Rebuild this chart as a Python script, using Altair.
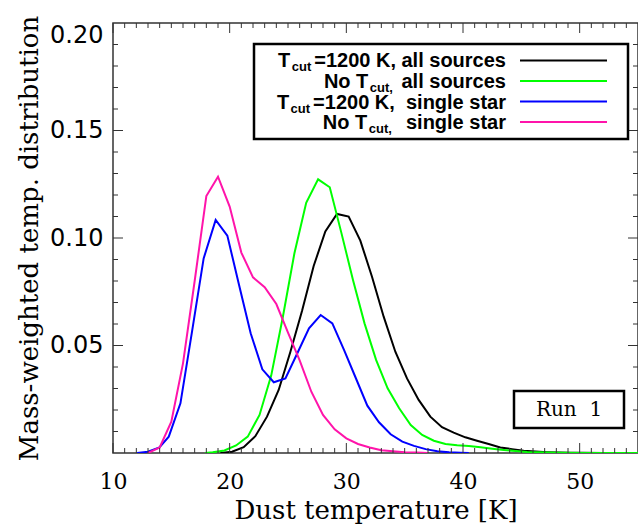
import altair as alt
import pandas as pd

# Mass-weighted dust temperature distributions (Run 1)
black_t = [19.2, 20.2, 21.2, 22.2, 23.2, 24.2, 25.2, 26.2, 27.2, 28.2, 29.2, 30.2,
           31.2, 32.2, 33.2, 34.2, 35.2, 36.2, 37.2, 38.2, 39.2, 40.2, 41.2, 42.2,
           43.2, 44.2, 45.2, 46.2, 47.2, 48.2, 49.2, 50.2, 52.0, 55.0]
black_v = [0.0, 0.0006, 0.0027, 0.0078, 0.0169, 0.0293, 0.0470, 0.0660, 0.0870, 0.1030,
           0.1112, 0.1100, 0.0988, 0.0820, 0.0634, 0.0471, 0.0347, 0.0247, 0.0169, 0.0120,
           0.0095, 0.0073, 0.0057, 0.0042, 0.0026, 0.0018, 0.0011, 0.0007, 0.0004, 0.0002,
           0.0001, 0.0001, 0.0, 0.0]

green_t = [17.9, 18.55, 19.55, 20.55, 21.55, 22.56, 23.56, 24.55, 25.55, 26.56, 27.58,
           28.58, 29.57, 30.57, 31.56, 32.55, 33.54, 34.53, 35.52, 36.5, 37.5, 38.5,
           39.5, 40.5, 41.5, 42.5, 43.5, 44.5, 45.5, 46.5, 47.5, 48.5, 50.0, 55.0]
green_v = [0.0, 0.0003, 0.0012, 0.0035, 0.0076, 0.0177, 0.0360, 0.0630, 0.0929, 0.1164,
           0.1273, 0.1236, 0.1025, 0.0805, 0.0603, 0.0433, 0.0301, 0.0208, 0.0130, 0.0084,
           0.0057, 0.0042, 0.0036, 0.0033, 0.0027, 0.0020, 0.0014, 0.0009, 0.0005, 0.0003,
           0.0002, 0.0001, 0.0, 0.0]

blue_t = [12.07, 13.0, 13.98, 14.78, 15.78, 16.78, 17.77, 18.8, 19.8, 20.8, 21.8, 22.8,
          23.78, 24.78, 25.8, 26.8, 27.8, 28.8, 29.8, 30.8, 31.8, 32.8, 33.8, 34.8,
          35.8, 36.8, 37.8, 38.8, 39.8, 40.5]
blue_v = [0.0, 0.0006, 0.0026, 0.0076, 0.0231, 0.0567, 0.0905, 0.1084, 0.1011, 0.0783,
          0.0557, 0.0389, 0.0329, 0.0347, 0.0464, 0.0580, 0.0642, 0.0603, 0.0480, 0.0350,
          0.0220, 0.0143, 0.0087, 0.0053, 0.0033, 0.0018, 0.0008, 0.0003, 0.0001, 0.0]

pink_t = [13.0, 14.0, 15.0, 16.0, 17.0, 18.0, 19.0, 20.0, 21.0, 22.0, 23.0, 24.0, 25.0,
          26.0, 27.0, 28.0, 29.0, 30.0, 31.0, 32.0, 33.0, 34.0, 35.0, 36.0, 37.0]
pink_v = [0.0, 0.0026, 0.0146, 0.0417, 0.0800, 0.1195, 0.1285, 0.1146, 0.0932, 0.0817,
          0.0771, 0.0693, 0.0560, 0.0431, 0.0285, 0.0177, 0.0110, 0.0068, 0.0042, 0.0026,
          0.0013, 0.0008, 0.0004, 0.0002, 0.0]

series = [
    (black_t, black_v, "#000000"),
    (green_t, green_v, "#00ff00"),
    (blue_t, blue_v, "#0000ff"),
    (pink_t, pink_v, "#ff14aa"),
]

# legend rows: (main text, subscript, remainder)
legend_rows = [
    ("T", "cut", "=1200 K, all sources"),
    ("No T", "cut,", " all sources"),
    ("T", "cut", "=1200 K,  single star"),
    ("No T", "cut,", "  single star"),
]
legend_colors = ["#000000", "#00ff00", "#0000ff", "#ff14aa"]

x_major = [10, 20, 30, 40, 50]
x_minor = [t for t in range(11, 55) if t % 10]
y_labels = [0.05, 0.10, 0.15, 0.20]
y_major = [0.05, 0.10, 0.15]
y_minor = [0.01, 0.02, 0.03, 0.04, 0.06, 0.07, 0.08, 0.09,
           0.11, 0.12, 0.13, 0.14, 0.16, 0.17, 0.18, 0.19]

W, H = 525, 430
AX = "#333333"

x_scale = alt.Scale(domain=[10, 55], nice=False, zero=False)
y_scale = alt.Scale(domain=[0, 0.20], nice=False, zero=False)

x_axis = alt.Axis(values=x_major, format="d", ticks=False, domain=False, grid=False,
                  labelFont="DejaVu Serif", labelFontSize=22, labelColor="black",
                  labelPadding=18, labelFlush=False,
                  title="Dust temperature [K]", titleFont="DejaVu Serif",
                  titleFontSize=26, titleFontWeight="normal", titleColor="black",
                  titlePadding=5)
y_axis = alt.Axis(values=y_labels, format=".2f", ticks=False, domain=False, grid=False,
                  labelFont="DejaVu Sans", labelFontSize=24, labelColor="black",
                  labelPadding=10, labelFlush=True,
                  title="Mass-weighted temp. distribution", titleFont="DejaVu Serif",
                  titleFontSize=26, titleFontWeight="normal", titleColor="black",
                  titlePadding=7)

X = alt.X("T:Q", scale=x_scale, axis=x_axis)
Y = alt.Y("v:Q", scale=y_scale, axis=y_axis)

layers = []
for ts, vs, col in series:
    df = pd.DataFrame({"T": ts, "v": vs})
    layers.append(
        alt.Chart(df).mark_line(color=col, strokeWidth=2, clip=True).encode(x=X, y=Y)
    )

# inward ticks on all four sides
def x_ticks(vals, length):
    d = pd.DataFrame({"T": vals})
    bottom = alt.Chart(d).mark_rule(color=AX, strokeWidth=1).encode(
        x=X, y=alt.value(H), y2=alt.value(H - length))
    top = alt.Chart(d).mark_rule(color=AX, strokeWidth=1).encode(
        x=X, y=alt.value(0), y2=alt.value(length))
    return [bottom, top]

def y_ticks(vals, length):
    d = pd.DataFrame({"v": vals})
    left = alt.Chart(d).mark_rule(color=AX, strokeWidth=1).encode(
        y=Y, x=alt.value(0), x2=alt.value(length))
    right = alt.Chart(d).mark_rule(color=AX, strokeWidth=1).encode(
        y=Y, x=alt.value(W), x2=alt.value(W - length))
    return [left, right]

layers += x_ticks(x_major, 10) + x_ticks(x_minor, 5)
layers += y_ticks(y_major, 10) + y_ticks(y_minor, 5)

# legend box, drawn in pixel space
ARIAL_BOLD = {"T": 611, "N": 722, "o": 611, " ": 278, "\u00a0": 278, "=": 584, "1": 556,
              "2": 556, "0": 556, "K": 722, ",": 278, "a": 556, "l": 278, "s": 556,
              "u": 611, "r": 389, "c": 556, "e": 556, "i": 278, "n": 611, "g": 611,
              "t": 333}

def text_width(s, fs):
    return sum(ARIAL_BOLD[c] for c in s) * fs / 1000.0

FS, FS_SUB = 20, 13
TEXT_END = 393
GAP_SUB, GAP_MAIN = 3.0, 1.5
row_base = [44, 65, 85.5, 106]
row_line = [37.5, 58, 78.5, 99]

one = pd.DataFrame({"k": [0]})

def rect(x0, x1, y0, y1):
    return alt.Chart(one).mark_rect(fill="white", stroke="black", strokeWidth=2.5).encode(
        x=alt.value(x0), x2=alt.value(x1), y=alt.value(y0), y2=alt.value(y1))

def label(txt, x, y, fs, font, weight, align):
    return alt.Chart(one).mark_text(
        align=align, baseline="alphabetic", font=font, fontWeight=weight,
        fontSize=fs, color="black").encode(
        x=alt.value(x), y=alt.value(y), text=alt.value(txt))

legend_layers = [rect(141, 515, 21, 116)]
for (main, sub, rest), yb, yl, col in zip(legend_rows, row_base, row_line, legend_colors):
    rest = rest.replace(" ", "\u00a0")
    x_rest = TEXT_END
    x_sub = x_rest - text_width(rest, FS) - GAP_SUB
    x_main = x_sub - text_width(sub, FS_SUB) - GAP_MAIN
    legend_layers.append(label(rest, x_rest, yb, FS, "Liberation Sans", "bold", "right"))
    legend_layers.append(label(sub, x_sub, yb + 4, FS_SUB, "Liberation Sans", "bold", "right"))
    legend_layers.append(label(main, x_main, yb, FS, "Liberation Sans", "bold", "right"))
    legend_layers.append(
        alt.Chart(one).mark_rule(color=col, strokeWidth=2).encode(
            x=alt.value(407), x2=alt.value(494), y=alt.value(yl)))

# run label
legend_layers.append(rect(401, 511, 368, 405))
legend_layers.append(label("Run\u00a0\u00a01", 456, 393, 20, "DejaVu Serif", "normal", "center"))

layers += legend_layers

chart = alt.layer(*layers).properties(
    width=W, height=H,
    autosize=alt.AutoSizeParams(type="none"),
    padding={"left": 113, "top": 23, "right": 0, "bottom": 74},
    background="white",
).configure_view(stroke=AX, strokeWidth=1.5)

chart.save("out.html", embed_options={"renderer": "svg", "actions": False})
